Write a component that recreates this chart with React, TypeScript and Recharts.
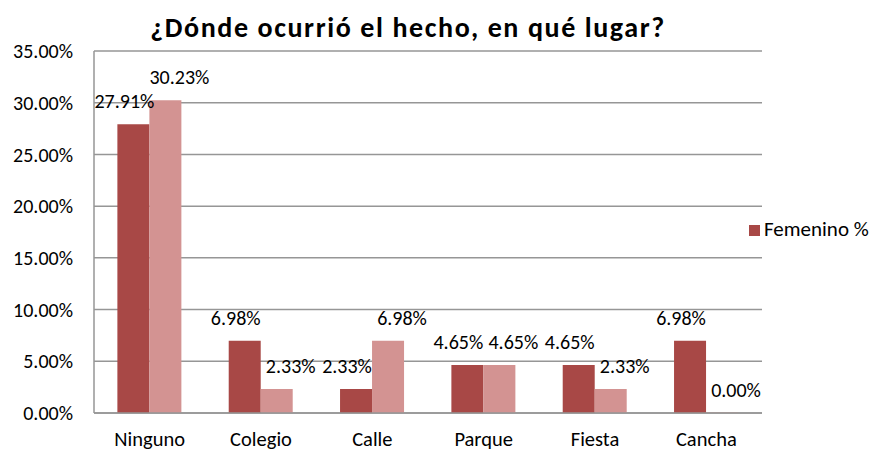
import { BarChart, Bar, XAxis, YAxis, CartesianGrid, Legend, LabelList } from 'recharts';

const categories = ['Ninguno', 'Colegio', 'Calle', 'Parque', 'Fiesta', 'Cancha'];
const femenino = [27.91, 6.98, 2.33, 4.65, 4.65, 6.98];
const segunda = [30.23, 2.33, 6.98, 4.65, 2.33, 0.0];
const yTicks = [0, 5, 10, 15, 20, 25, 30, 35];

const FONT = 'Carlito, Calibri, Lato, sans-serif';
const pct = (v: unknown) => `${Number(v).toFixed(2)}%`;

// Excel nudged the labels sideways so neighbours don't collide
function makeLabel(shift: number) {
    return (props: any) => {
        const { x, y, width, value } = props;
        const cx = Number(x) + Number(width) / 2 + shift;
        return (
            <text x={cx} y={Number(y) - 16} textAnchor="middle" fill="#000" fontSize={20} fontFamily={FONT}>
                {pct(value)}
            </text>
        );
    };
}

export default function App() {
    const data = categories.map((name, i) => ({
        name,
        femenino: femenino[i],
        segunda: segunda[i],
    }));

    return (
        <div style={{ position: 'absolute', left: 0, top: 0, width: 875, height: 452, background: '#fff', fontFamily: FONT, overflow: 'hidden' }}>
            <div
                style={{
                    position: 'absolute',
                    left: 0,
                    width: 816,
                    top: 10,
                    textAlign: 'center',
                    fontSize: 28,
                    letterSpacing: 1.6,
                    fontWeight: 'bold',
                    color: '#000',
                }}
            >
                ¿Dónde ocurrió el hecho, en qué lugar?
            </div>
            <BarChart
                width={875}
                height={452}
                data={data}
                margin={{ top: 51, right: 113, left: 0, bottom: 0 }}
                barGap={0}
                barCategoryGap="21%"
            >
                <CartesianGrid vertical={false} stroke="#969696" strokeWidth={1.5} />
                <XAxis
                    dataKey="name"
                    height={39}
                    tickLine={false}
                    tickMargin={12}
                    axisLine={{ stroke: '#969696', strokeWidth: 1.5 }}
                    tick={{ fill: '#000', fontSize: 20.5, fontFamily: FONT }}
                />
                <YAxis
                    width={94}
                    domain={[0, 35]}
                    ticks={yTicks}
                    interval={0}
                    tickFormatter={pct}
                    tickLine={false}
                    tickMargin={15}
                    axisLine={{ stroke: '#969696', strokeWidth: 1.5 }}
                    tick={{ fill: '#000', fontSize: 20, fontFamily: FONT }}
                />
                <Legend
                    layout="vertical"
                    align="center"
                    verticalAlign="middle"
                    iconType="square"
                    iconSize={11}
                    wrapperStyle={{ left: 749, top: 216, width: 150, whiteSpace: 'nowrap', fontSize: 21, fontFamily: FONT }}
                    formatter={(value) => <span style={{ color: '#000', whiteSpace: 'nowrap' }}>{value}</span>}
                />
                <Bar dataKey="femenino" name="Femenino %" fill="#A84846" isAnimationActive={false}>
                    <LabelList dataKey="femenino" content={makeLabel(-9)} />
                </Bar>
                <Bar
                    dataKey="segunda"
                    name="Masculino %"
                    fill="#D39392"
                    legendType="none"
                    minPointSize={(v: number) => (v === 0 ? 0.5 : 0)}
                    isAnimationActive={false}
                >
                    <LabelList dataKey="segunda" content={makeLabel(14)} />
                </Bar>
            </BarChart>
        </div>
    );
}
